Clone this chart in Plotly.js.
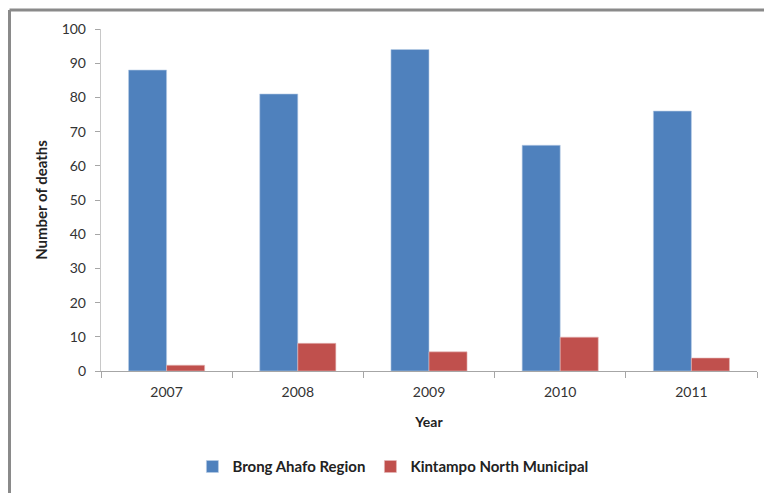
<!DOCTYPE html>
<html>
<head>
<meta charset="utf-8">
<script src="https://cdn.plot.ly/plotly-3.0.1.min.js"></script>
<style>html,body{margin:0;padding:0;background:#fff;}#chart{width:764px;height:493px;}</style>
</head>
<body>
<div id="chart"></div>
<script>
const years = ["2007", "2008", "2009", "2010", "2011"];
const brongAhafo = [88, 81, 94, 66, 76];
const kintampoNorth = [1.7, 8.1, 5.6, 9.9, 3.8];
const seriesNames = ["Brong Ahafo Region", "Kintampo North Municipal"];
const yTicks = [0, 10, 20, 30, 40, 50, 60, 70, 80, 90, 100];

const fontFam = "Lato, 'Open Sans', sans-serif";
const data = [
  {type: "bar", x: years, y: brongAhafo, name: seriesNames[0],
   marker: {color: "#4F81BD", line: {color: "#b9cde5", width: 0.6}}},
  {type: "bar", x: years, y: kintampoNorth, name: seriesNames[1],
   marker: {color: "#C0504D", line: {color: "#e6b9b8", width: 0.6}}}
];
const layout = {
  width: 764, height: 493,
  margin: {l: 101, r: 7, t: 29, b: 122},
  paper_bgcolor: "#fff", plot_bgcolor: "#fff",
  font: {family: fontFam, size: 14, color: "#333"},
  barmode: "group", bargap: 0.42, bargroupgap: 0,
  showlegend: true,
  legend: {orientation: "h", x: 0.445, xanchor: "center", y: -0.28, yanchor: "middle",
           font: {size: 15, color: "#222", weight: "bold"}, traceorder: "normal", itemwidth: 30},
  xaxis: {type: "category", showline: true, linecolor: "#a6a6a6", linewidth: 1.2,
          ticks: "outside", tickson: "boundaries", ticklen: 6, tickcolor: "#a6a6a6",
          ticklabelstandoff: 8,
          tickfont: {size: 14, color: "#333"}, showgrid: false,
          title: {text: "<b>Year</b>", font: {size: 14, color: "#222"}, standoff: 18}},
  yaxis: {range: [0, 100], tickvals: yTicks, showline: true, linecolor: "#c8c8c8", linewidth: 1.2,
          ticks: "outside", ticklen: 5, tickcolor: "#a6a6a6", showgrid: false, zeroline: false,
          ticklabelstandoff: 6,
          tickfont: {size: 14, color: "#333"},
          title: {text: "<b>Number of deaths</b>", font: {size: 15, color: "#222"}, standoff: 10}},
  shapes: [
    {type: "line", xref: "paper", yref: "paper", x0: (9.5-101)/656, x1: (770-101)/656,
     y0: (371-10)/342, y1: (371-10)/342, line: {color: "#8a8a8a", width: 3}},
    {type: "line", xref: "paper", yref: "paper", x0: (9.5-101)/656, x1: (9.5-101)/656,
     y0: (371-10)/342, y1: (371-500)/342, line: {color: "#8a8a8a", width: 3}}
  ]
};
Plotly.newPlot("chart", data, layout, {displayModeBar: false, staticPlot: true});
</script>
</body>
</html>
